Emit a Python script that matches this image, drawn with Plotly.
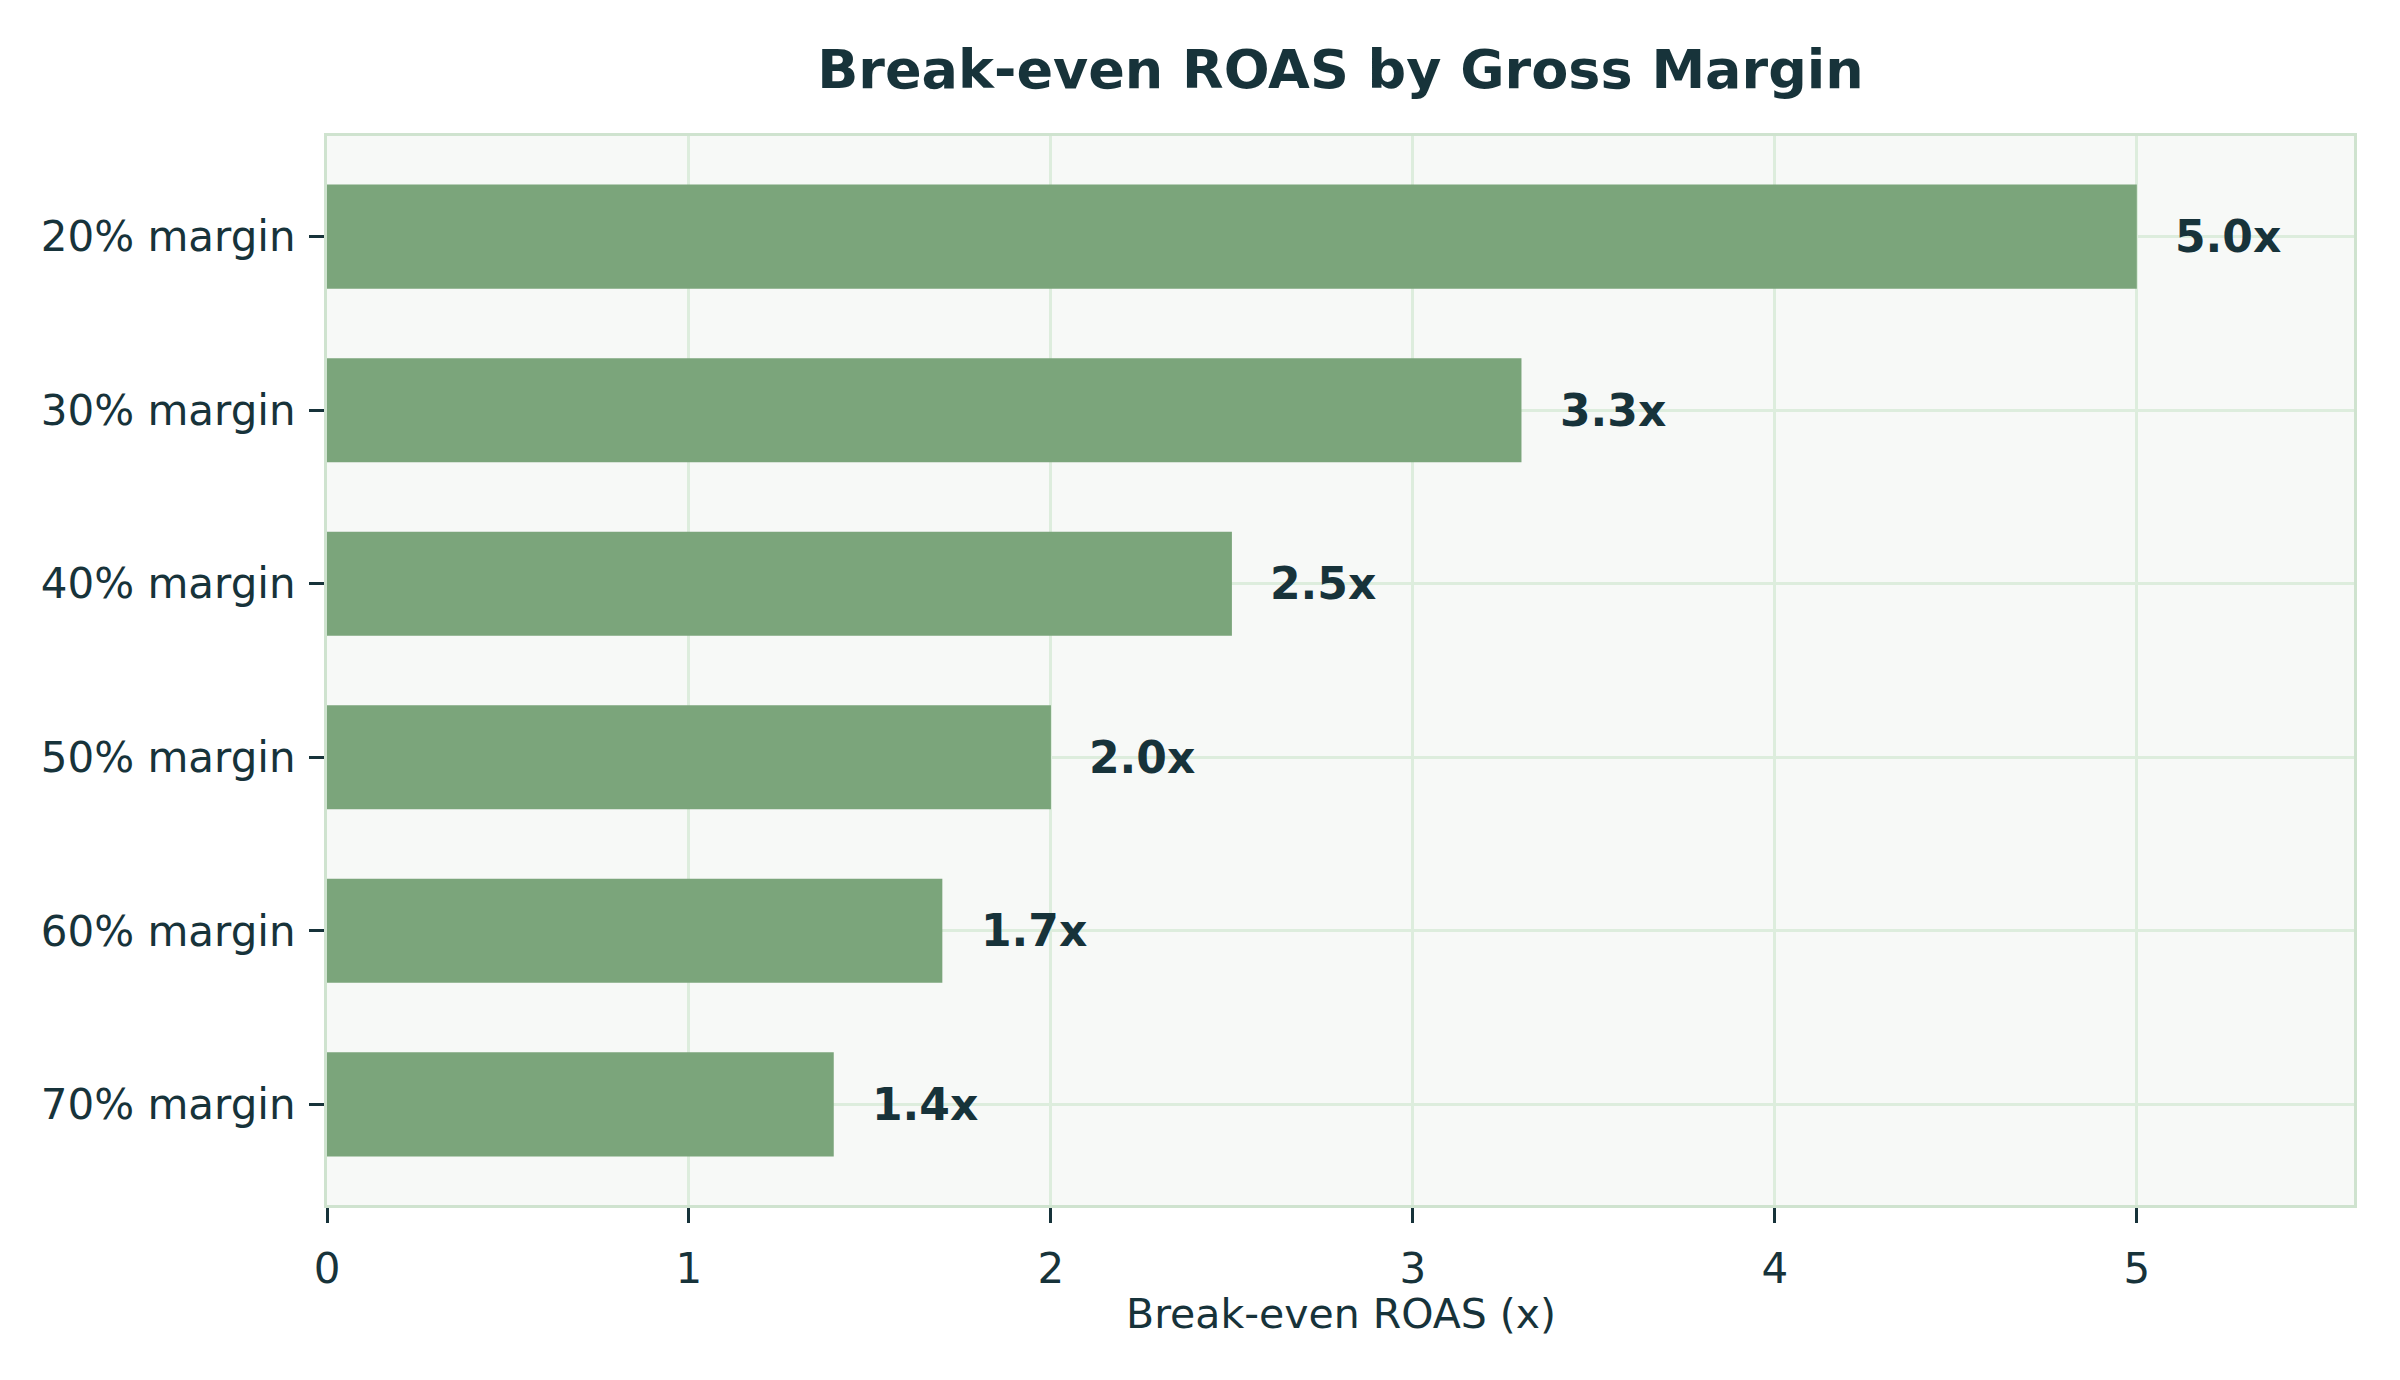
import plotly.graph_objects as go

categories = ["20% margin", "30% margin", "40% margin", "50% margin", "60% margin", "70% margin"]
roas = [5.0, 3.3, 2.5, 2.0, 1.7, 1.4]
labels = ["5.0x", "3.3x", "2.5x", "2.0x", "1.7x", "1.4x"]
x_ticks = [0, 1, 2, 3, 4, 5]

TEXT = "#17333A"
BAR = "#7BA57B"
BG = "#F7F9F7"
GRID = "#DDEDDD"
SPINE = "#CFE3CF"
FONT = "DejaVu Sans"

fig = go.Figure()
fig.add_trace(go.Bar(
    x=roas, y=categories, orientation="h",
    marker=dict(color=BAR, line=dict(width=0)),
    width=0.6, hoverinfo="skip",
))

for c, v, t in zip(categories, roas, labels):
    fig.add_annotation(x=v + 0.1, y=c, text="<b>%s</b>" % t, xanchor="left", yanchor="middle",
                       showarrow=False, font=dict(family=FONT, size=44, color=TEXT))

# x-axis title
fig.add_annotation(text="Break-even ROAS (x)", xref="paper", yref="paper", x=0.5, y=-0.102,
                   xanchor="center", yanchor="middle", showarrow=False,
                   font=dict(family=FONT, size=41, color=TEXT))

fig.update_layout(
    width=2400, height=1380,
    margin=dict(l=327, r=46, t=136, b=175),
    paper_bgcolor="white", plot_bgcolor=BG,
    showlegend=False,
    title=dict(text="<b>Break-even ROAS by Gross Margin</b>", x=(327 + 2354) / 2 / 2400, xanchor="center",
               y=1 - 69 / 1380, yanchor="middle", yref="container",
               font=dict(family=FONT, size=54, color=TEXT)),
    font=dict(family=FONT, size=42, color=TEXT),
)
fig.update_xaxes(
    range=[0, 5.6], tickvals=x_ticks, ticktext=[str(v) for v in x_ticks],
    showgrid=True, gridcolor=GRID, gridwidth=3, zeroline=False,
    showline=True, linecolor=SPINE, linewidth=3, mirror=True,
    ticks="outside", ticklen=15, tickwidth=3, tickcolor=TEXT,
    ticklabelstandoff=10,
    tickfont=dict(family=FONT, size=42, color=TEXT),
)
fig.update_yaxes(
    categoryorder="array", categoryarray=categories,
    range=[5.58, -0.58],
    showgrid=True, gridcolor=GRID, gridwidth=3, zeroline=False,
    showline=True, linecolor=SPINE, linewidth=3, mirror=True,
    ticks="outside", ticklen=15, tickwidth=3, tickcolor=TEXT,
    ticklabelstandoff=5,
    tickfont=dict(family=FONT, size=42, color=TEXT),
)

fig.write_html("out.html")
